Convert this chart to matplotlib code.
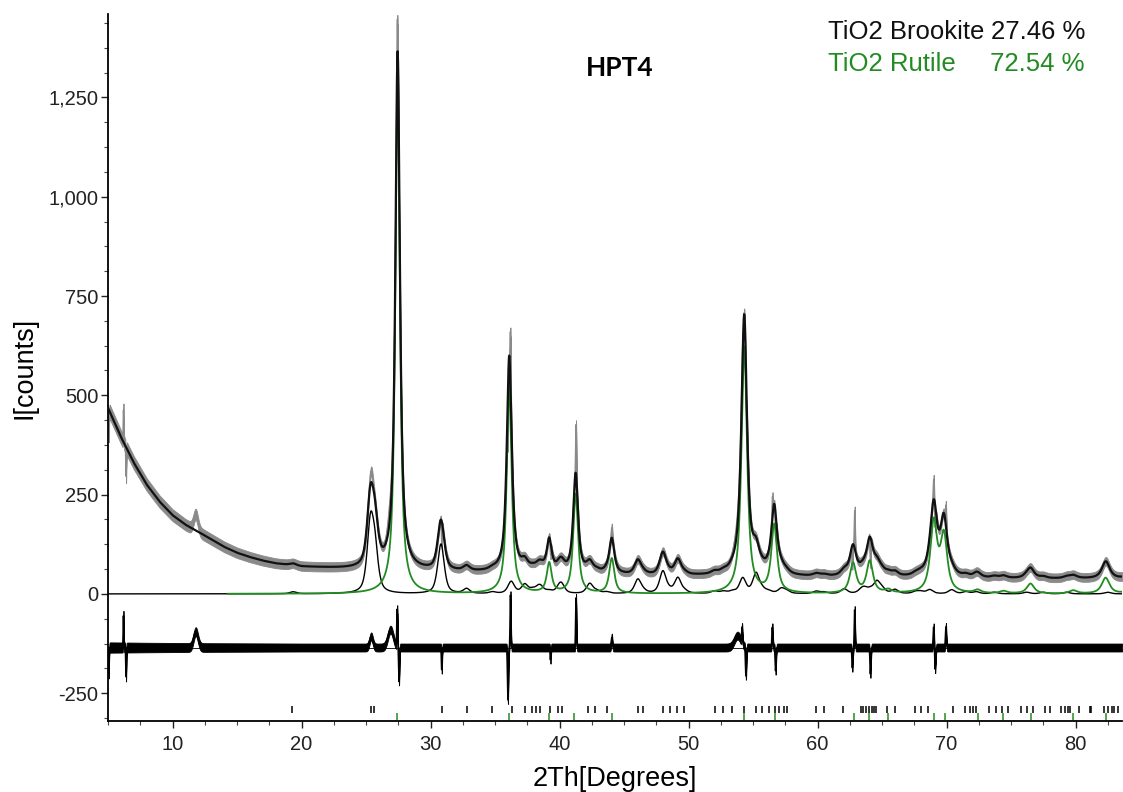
import numpy as np
import matplotlib
matplotlib.use("Agg")
import matplotlib.pyplot as plt
from matplotlib.ticker import MultipleLocator, FuncFormatter

plt.rcParams['font.family'] = ['Liberation Sans', 'DejaVu Sans']
plt.rcParams['axes.unicode_minus'] = False

# ---------------- data ----------------
# background (counts) at anchor angles
bkg_pos = [5, 6, 7, 8, 9, 10, 11, 12, 13, 14, 15, 16, 17, 18, 20, 22, 24, 28,
           32, 36, 40, 45, 50, 55, 60, 65, 70, 75, 80, 84]
bkg_val = [468, 395, 330, 275, 232, 198, 174, 156, 137, 118, 103, 92, 83, 76,
           68, 65, 62, 58, 55, 52, 50, 47, 45, 44, 42, 41, 40, 38, 38, 38]

# TiO2 rutile reflections: position (2Th), height (counts), FWHM (deg)
rutile_pos = [27.45, 36.10, 39.20, 41.25, 44.05, 54.32, 56.64, 62.75, 64.05,
              65.48, 69.01, 69.79, 72.41, 74.41, 76.51, 79.82, 82.33, 84.26]
rutile_height = [1303, 520, 75, 250, 88, 620, 170, 75, 80,
                 8, 175, 140, 8, 6, 25, 8, 40, 12]
rutile_fwhm = [0.42, 0.45, 0.45, 0.45, 0.47, 0.52, 0.53, 0.58, 0.58,
               0.60, 0.62, 0.62, 0.65, 0.65, 0.68, 0.70, 0.72, 0.75]

# TiO2 brookite reflections
brookite_pos = [19.35, 25.34, 25.69, 30.81, 32.79, 34.80, 36.25, 37.30, 37.90,
                38.37, 38.57, 39.20, 39.97, 40.15, 42.34, 42.90, 43.65, 46.07,
                46.50, 48.01, 48.50, 49.17, 49.70, 52.00, 52.70, 53.40, 54.20,
                55.23, 55.70, 56.20, 57.20, 57.60, 59.90, 60.50, 62.06, 63.40,
                63.65, 64.10, 64.60, 65.00, 66.00, 67.60, 68.00, 68.70, 70.40,
                71.50, 72.30, 73.70, 76.20, 77.50, 79.30, 82.50]
brookite_height = [5, 165, 95, 125, 12, 4, 30, 22, 8,
                   12, 10, 6, 10, 20, 25, 6, 4, 35,
                   5, 55, 5, 38, 5, 6, 5, 5, 38,
                   50, 8, 5, 12, 6, 6, 4, 12, 8,
                   10, 8, 28, 10, 10, 5, 5, 10, 10,
                   5, 5, 4, 4, 4, 4, 4]
brookite_fwhm = 0.6

# observed - calculated features (position, amplitude counts, width deg)
diff_pos = [5.05, 6.2, 6.4, 11.8, 25.4, 26.9, 27.42, 27.56, 30.87, 36.0, 36.2,
            39.3, 41.28, 44.05, 53.8, 54.15, 54.45, 56.5, 56.75, 62.7, 62.88,
            64.1, 69.0, 69.12, 69.95]
diff_amp = [-65, 80, -75, 40, 28, 45, 95, -86, -56, -132, 132,
            -31, 125, 25, 30, 40, -73, 51, -59, -51, 95,
            -67, 51, -55, 52]
diff_width = [0.06, 0.05, 0.05, 0.4, 0.3, 0.5, 0.07, 0.07, 0.06, 0.08, 0.07,
              0.06, 0.07, 0.1, 0.6, 0.08, 0.08, 0.08, 0.08, 0.08, 0.07,
              0.08, 0.08, 0.08, 0.08]

# counting noise half-width (counts)
noise_pos = [5, 8, 12, 20, 30, 84]
obs_noise = [18, 16, 14, 12, 11, 11]
diff_noise = [13, 12, 11, 10, 10, 10]

# reflection tick marks
brookite_ticks = [19.3, 25.37, 25.64, 30.86, 32.8, 34.8, 36.3, 37.3, 37.9, 38.2,
                  38.5, 39.3, 39.9, 40.2, 42.2, 42.75, 43.65, 46.1, 46.5, 48.0,
                  48.57, 49.13, 49.65, 52.05, 52.7, 53.4, 54.3, 55.2, 55.7, 56.2,
                  56.7, 57.05, 57.4, 57.6, 59.86, 60.5, 62.0, 63.4, 63.55, 63.76,
                  63.97, 64.2, 64.4, 64.5, 65.4, 66.0, 67.55, 68.0, 68.6, 70.5,
                  71.45, 71.8, 72.05, 72.3, 73.3, 73.8, 74.3, 74.8, 75.8, 76.2,
                  76.7, 77.6, 78.0, 78.9, 79.2, 79.4, 79.6, 80.3, 81.1, 81.2,
                  82.2, 82.5, 82.8, 83.0, 83.3]
rutile_ticks = [27.38, 36.1, 39.2, 41.15, 44.05, 54.3, 56.7, 62.8, 64.0, 65.5,
                69.0, 69.9, 72.4, 74.4, 76.55, 79.8, 82.35]

phase_names = ["TiO2 Brookite", "TiO2 Rutile"]
phase_pct = ["27.46 %", "72.54 %"]
sample_name = "HPT4"

diff_offset = -135
rutile_start = 14.3
x_range = (5, 83.6)
y_range = (-320, 1460)

# ---------------- profile construction ----------------
x = np.linspace(x_range[0], x_range[1], 8000)


def pseudo_voigt(xx, pos, h, w, eta):
    hw = w / 2.0
    t = (xx - pos) / hw
    return h * (eta / (1 + t ** 2) + (1 - eta) * np.exp(-np.log(2) * t ** 2))


bkg = np.interp(x, bkg_pos, bkg_val)
rutile = np.zeros_like(x)
for p, h, w in zip(rutile_pos, rutile_height, rutile_fwhm):
    rutile += pseudo_voigt(x, p, h, w, 0.85)
brookite = np.zeros_like(x)
for p, h in zip(brookite_pos, brookite_height):
    brookite += pseudo_voigt(x, p, h, brookite_fwhm, 0.6)
calc = bkg + rutile + brookite

dev = np.zeros_like(x)
for p, a, w in zip(diff_pos, diff_amp, diff_width):
    dev += a * np.exp(-4 * np.log(2) * ((x - p) / w) ** 2)
obs = calc + dev
diff = diff_offset + dev
on = np.interp(x, noise_pos, obs_noise)
dn = np.interp(x, noise_pos, diff_noise)

# ---------------- figure ----------------
fig = plt.figure(figsize=(11.23, 7.92), dpi=100)
ax = fig.add_axes([108 / 1123, 1 - 721 / 792, 1014 / 1123, 707 / 792])

green = '#228b22'
ax.fill_between(x, obs - on, obs + on, color='#8a8a8a', lw=0.6, zorder=1)
ax.plot(x, obs, color='#8a8a8a', lw=1.0, zorder=1)
ax.plot(x, calc, color='#111111', lw=1.6, zorder=3)
ax.plot(x, brookite, color='black', lw=1.0, zorder=2)
m = x >= rutile_start
ax.plot(x[m], rutile[m], color=green, lw=1.3, zorder=2.5)
ax.fill_between(x, diff - dn, diff + dn, color='black', lw=0.6, zorder=2)
ax.plot(x, diff, color='black', lw=1.2, zorder=2)
ax.axhline(diff_offset, color='black', lw=0.6, zorder=2)

ax.vlines(brookite_ticks, -300, -282, color='black', lw=1.1)
ax.vlines(rutile_ticks, -318, -300, color=green, lw=1.1)

ax.set_xlim(*x_range)
ax.set_ylim(*y_range)
for s in ['top', 'right']:
    ax.spines[s].set_visible(False)
for s in ['left', 'bottom']:
    ax.spines[s].set_linewidth(1.3)
ax.xaxis.set_major_locator(MultipleLocator(10))
ax.xaxis.set_minor_locator(MultipleLocator(2.5))
ax.yaxis.set_major_locator(MultipleLocator(250))
ax.yaxis.set_minor_locator(MultipleLocator(62.5))
ax.yaxis.set_major_formatter(FuncFormatter(lambda v, p: f"{v:,.0f}"))
ax.tick_params(which='major', length=5, width=1, labelsize=14.5, colors='#222222')
ax.tick_params(axis='x', which='major', pad=5)
ax.tick_params(axis='y', which='major', pad=2)
ax.tick_params(which='minor', length=3, width=0.8, colors='#444444')

ax.set_xlabel("2Th[Degrees]", fontsize=19.5, labelpad=9)
ax.set_ylabel("I[counts]", fontsize=19.5, labelpad=8)

fs = 18.5
fig.text(828 / 1123, 1 - 32 / 792, phase_names[0], fontsize=fs, color='#111111',
         ha='left', va='center')
fig.text(1085 / 1123, 1 - 32 / 792, phase_pct[0], fontsize=fs, color='#111111',
         ha='right', va='center')
fig.text(828 / 1123, 1 - 64 / 792, phase_names[1], fontsize=fs, color=green,
         ha='left', va='center')
fig.text(1085 / 1123, 1 - 64 / 792, phase_pct[1], fontsize=fs, color=green,
         ha='right', va='center')
fig.text(620 / 1123, 1 - 68 / 792, sample_name, fontsize=19, fontweight='bold',
         family=['Lato', 'DejaVu Sans'], ha='center', va='center')

fig.savefig("out.png", dpi=100)
